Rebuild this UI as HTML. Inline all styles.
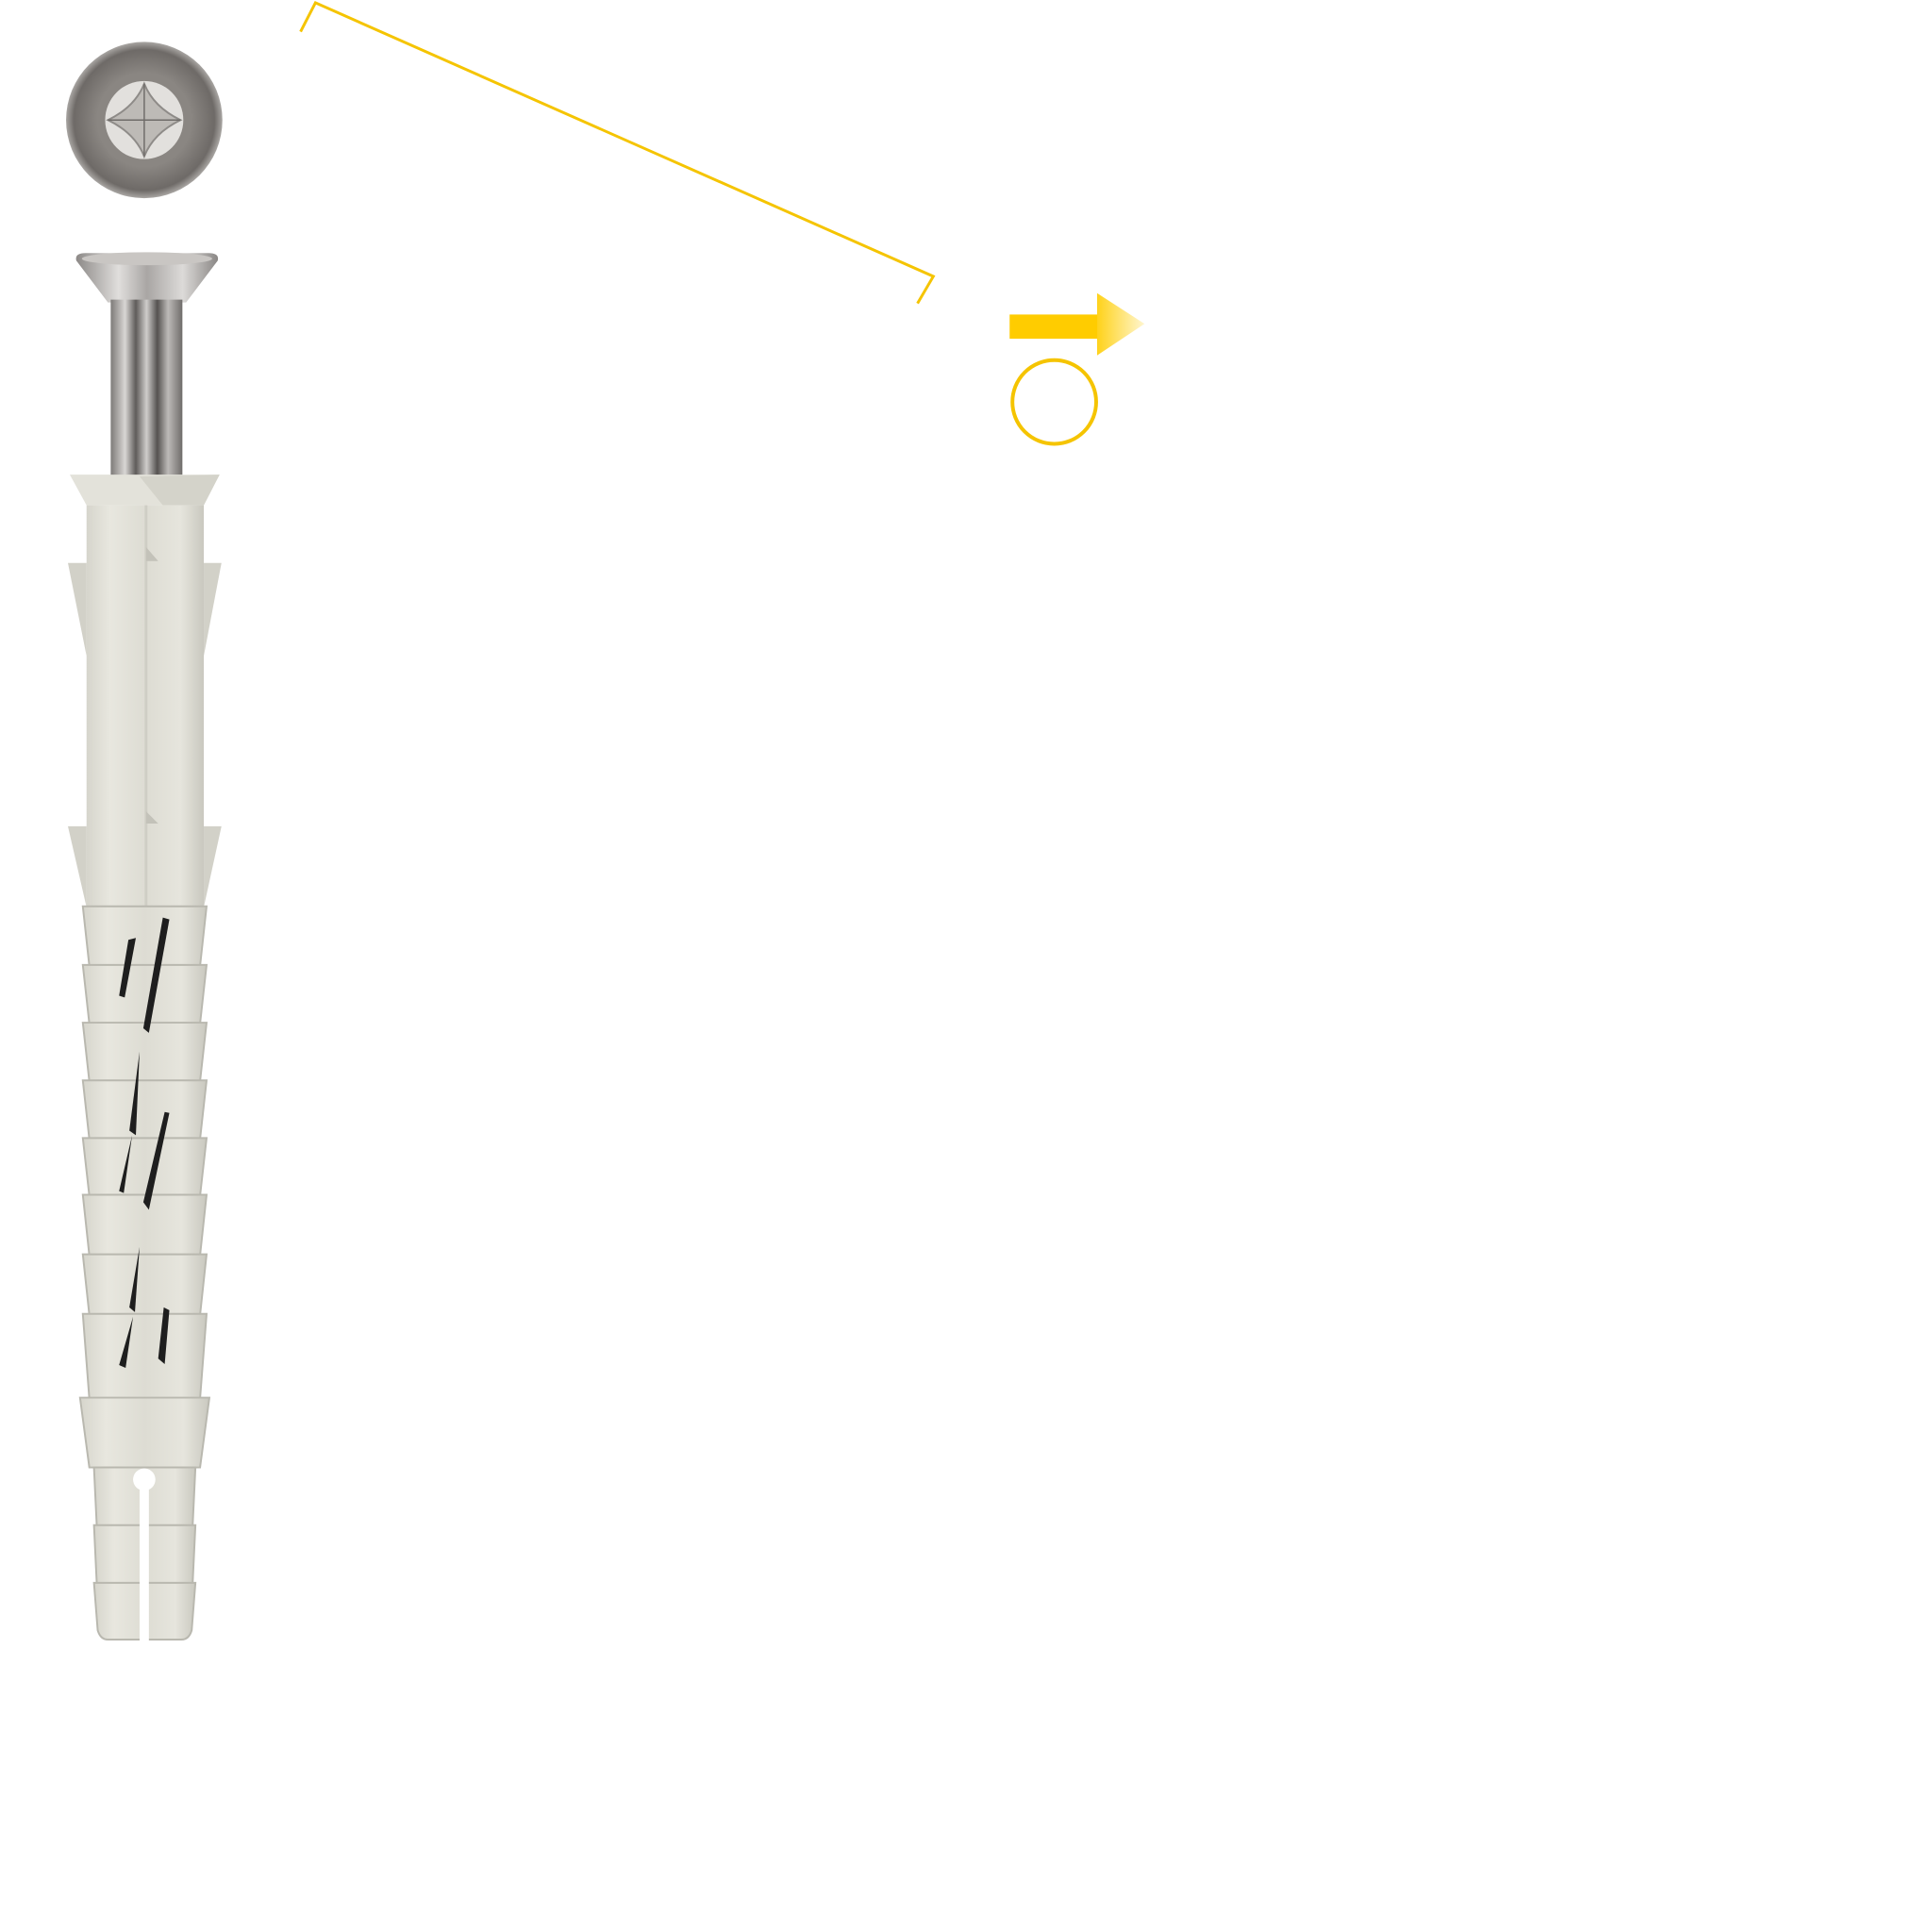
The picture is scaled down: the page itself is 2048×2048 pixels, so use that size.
<!DOCTYPE html>
<html><head><meta charset="utf-8"><style>html,body{margin:0;padding:0;background:#fff}svg{display:block}</style></head>
<body>
<svg width="2048" height="2048" viewBox="0 0 2048 2048" xmlns="http://www.w3.org/2000/svg">
<defs>
<radialGradient id="disk" cx="0.5" cy="0.5" r="0.5">
<stop offset="0.6" stop-color="#8a8682"/><stop offset="0.9" stop-color="#6e6a67"/><stop offset="1" stop-color="#a9a6a3"/>
</radialGradient>
<linearGradient id="metal" x1="0" x2="1">
<stop offset="0" stop-color="#7d7a78"/><stop offset="0.2" stop-color="#d8d6d4"/><stop offset="0.35" stop-color="#5f5c5a"/><stop offset="0.5" stop-color="#cfcdcb"/><stop offset="0.65" stop-color="#555250"/><stop offset="0.8" stop-color="#bdbab8"/><stop offset="1" stop-color="#6f6c6a"/>
</linearGradient>
<linearGradient id="head" x1="0" x2="1">
<stop offset="0" stop-color="#8c8987"/><stop offset="0.3" stop-color="#e0dedc"/><stop offset="0.5" stop-color="#a9a6a4"/><stop offset="0.75" stop-color="#dcdad8"/><stop offset="1" stop-color="#8a8785"/>
</linearGradient>
<linearGradient id="plast" x1="0" x2="1">
<stop offset="0" stop-color="#d6d5cc"/><stop offset="0.2" stop-color="#e8e7df"/><stop offset="0.5" stop-color="#dddcd3"/><stop offset="0.8" stop-color="#e6e5dd"/><stop offset="1" stop-color="#c9c8bf"/>
</linearGradient>
<linearGradient id="arrh" x1="0" x2="1">
<stop offset="0" stop-color="#ffd21a"/><stop offset="1" stop-color="#fff6d0"/>
</linearGradient>
</defs>
<g transform="scale(0.9864)">
<!-- top view disk -->
<circle cx="155" cy="129" r="84" fill="url(#disk)"/>
<circle cx="155" cy="129" r="42" fill="#e2e0dd"/>
<path d="M155 90 Q165 115 194 129 Q165 143 155 168 Q145 143 116 129 Q145 115 155 90Z" fill="#bdbab6" stroke="#8e8b88" stroke-width="2"/>
<line x1="155" y1="90" x2="155" y2="168" stroke="#6f6c69" stroke-width="1.5"/>
<line x1="116" y1="129" x2="194" y2="129" stroke="#6f6c69" stroke-width="1.5"/>

<!-- yellow bracket line -->
<polyline points="323,34 339,3 1003,297 986,326" fill="none" stroke="#f5c400" stroke-width="3"/>

<!-- arrow -->
<rect x="1085" y="338" width="96" height="26" fill="#ffcc00"/>
<path d="M1179 315 L1230 348 L1179 382Z" fill="url(#arrh)"/>
<circle cx="1133" cy="432" r="45" fill="none" stroke="#f5c400" stroke-width="4"/>

<!-- screw head -->
<path d="M82 280 Q80 272 92 272 L224 272 Q236 272 234 280 L200 325 L116 325 Z" fill="url(#head)"/>
<ellipse cx="158" cy="278" rx="70" ry="7" fill="#c9c6c3"/>
<rect x="119" y="322" width="77" height="190" fill="url(#metal)"/>

<!-- anchor collar -->
<path d="M75 510 L236 510 L219 543 L93 543 Z" fill="#e3e2da"/>
<path d="M150 512 L236 510 L219 543 L175 543 Z" fill="#d4d3ca"/>
<!-- body -->
<rect x="93" y="543" width="126" height="433" fill="url(#plast)"/>
<line x1="157" y1="543" x2="157" y2="975" stroke="#cfcec5" stroke-width="3"/>
<!-- fins -->
<path d="M73 605 L93 605 L93 705 Z" fill="#d2d1c8"/>
<path d="M238 605 L219 605 L219 705 Z" fill="#d2d1c8"/>
<path d="M73 888 L93 888 L93 975 Z" fill="#d2d1c8"/>
<path d="M238 888 L219 888 L219 975 Z" fill="#d2d1c8"/>
<path d="M157 588 L170 603 L157 603Z" fill="#c3c2b9"/>
<path d="M157 872 L170 885 L157 885Z" fill="#c3c2b9"/>

<!-- ribs -->
<g fill="url(#plast)" stroke="#b9b8af" stroke-width="2">
<path d="M89 974 L222 974 L215 1038 L96 1038Z"/>
<path d="M89 1037 L222 1037 L215 1100 L96 1100Z"/>
<path d="M89 1099 L222 1099 L215 1162 L96 1162Z"/>
<path d="M89 1161 L222 1161 L215 1224 L96 1224Z"/>
<path d="M89 1223 L222 1223 L215 1285 L96 1285Z"/>
<path d="M89 1284 L222 1284 L215 1349 L96 1349Z"/>
<path d="M89 1348 L222 1348 L215 1413 L96 1413Z"/>
<path d="M89 1412 L222 1412 L215 1503 L96 1503Z"/>
<path d="M86 1502 L225 1502 L215 1577 L96 1577Z"/>
<path d="M101 1577 L210 1577 L207 1640 L104 1640Z"/>
<path d="M101 1639 L210 1639 L207 1702 L104 1702Z"/>
<path d="M101 1701 L210 1701 L206 1752 Q203 1762 195 1762 L116 1762 Q108 1762 105 1752Z"/>
</g>
<!-- slits -->
<g fill="#1e1e1e">
<path d="M138 1010 L146 1008 L134 1072 L128 1070Z"/>
<path d="M175 986 L182 988 L160 1110 L154 1105Z"/>
<path d="M150 1130 L146 1220 L139 1215Z"/>
<path d="M177 1195 L182 1196 L160 1300 L154 1292Z"/>
<path d="M142 1220 L133 1282 L128 1280Z"/>
<path d="M150 1340 L145 1410 L139 1405Z"/>
<path d="M176 1405 L182 1408 L177 1466 L170 1460Z"/>
<path d="M143 1415 L135 1470 L128 1467Z"/>
</g>
<!-- slot -->
<circle cx="155" cy="1590" r="12" fill="#fff"/>
<rect x="150" y="1590" width="10" height="175" fill="#fff"/>
</g>
</svg>
</body></html>
